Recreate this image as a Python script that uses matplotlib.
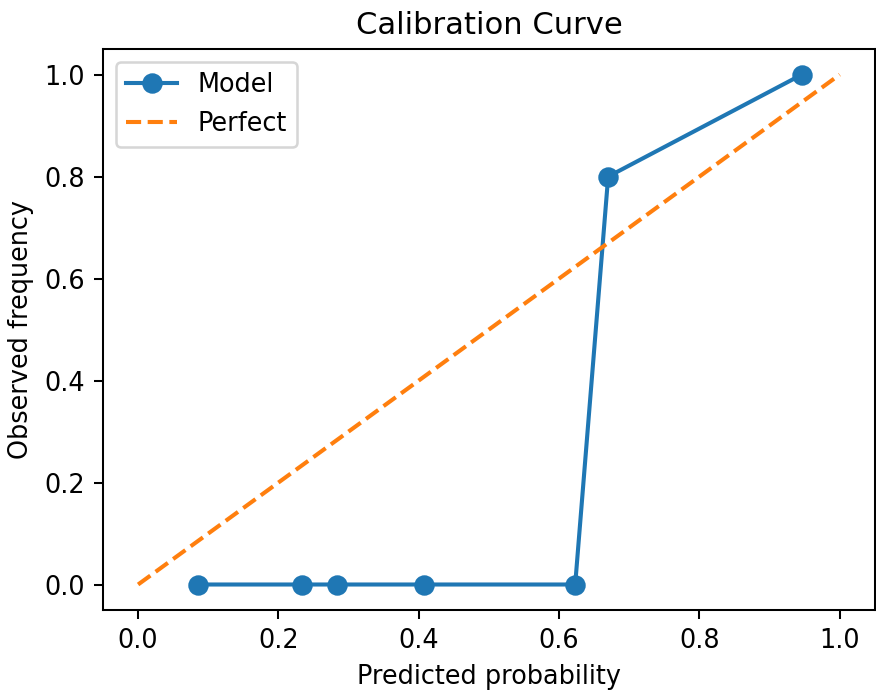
import matplotlib
matplotlib.use("Agg")
import matplotlib.pyplot as plt

# calibration bins
prob_pred = [0.086, 0.234, 0.284, 0.408, 0.623, 0.670, 0.946]
prob_true = [0.0, 0.0, 0.0, 0.0, 0.0, 0.8, 1.0]
perfect = [0, 1]

DPI = 184
fig = plt.figure(figsize=(876 / DPI, 692 / DPI), dpi=DPI)
ax = fig.add_axes([0.1176, 0.1185, 0.881, 0.8105])

ax.plot(prob_pred, prob_true, marker='o', label='Model', lw=1.6, ms=7)
ax.plot(perfect, perfect, linestyle='--', label='Perfect', lw=1.6)
ax.set_xlabel('Predicted probability')
ax.set_ylabel('Observed frequency')
ax.set_title('Calibration Curve')
ax.legend()

fig.savefig('out.png', dpi=DPI)
